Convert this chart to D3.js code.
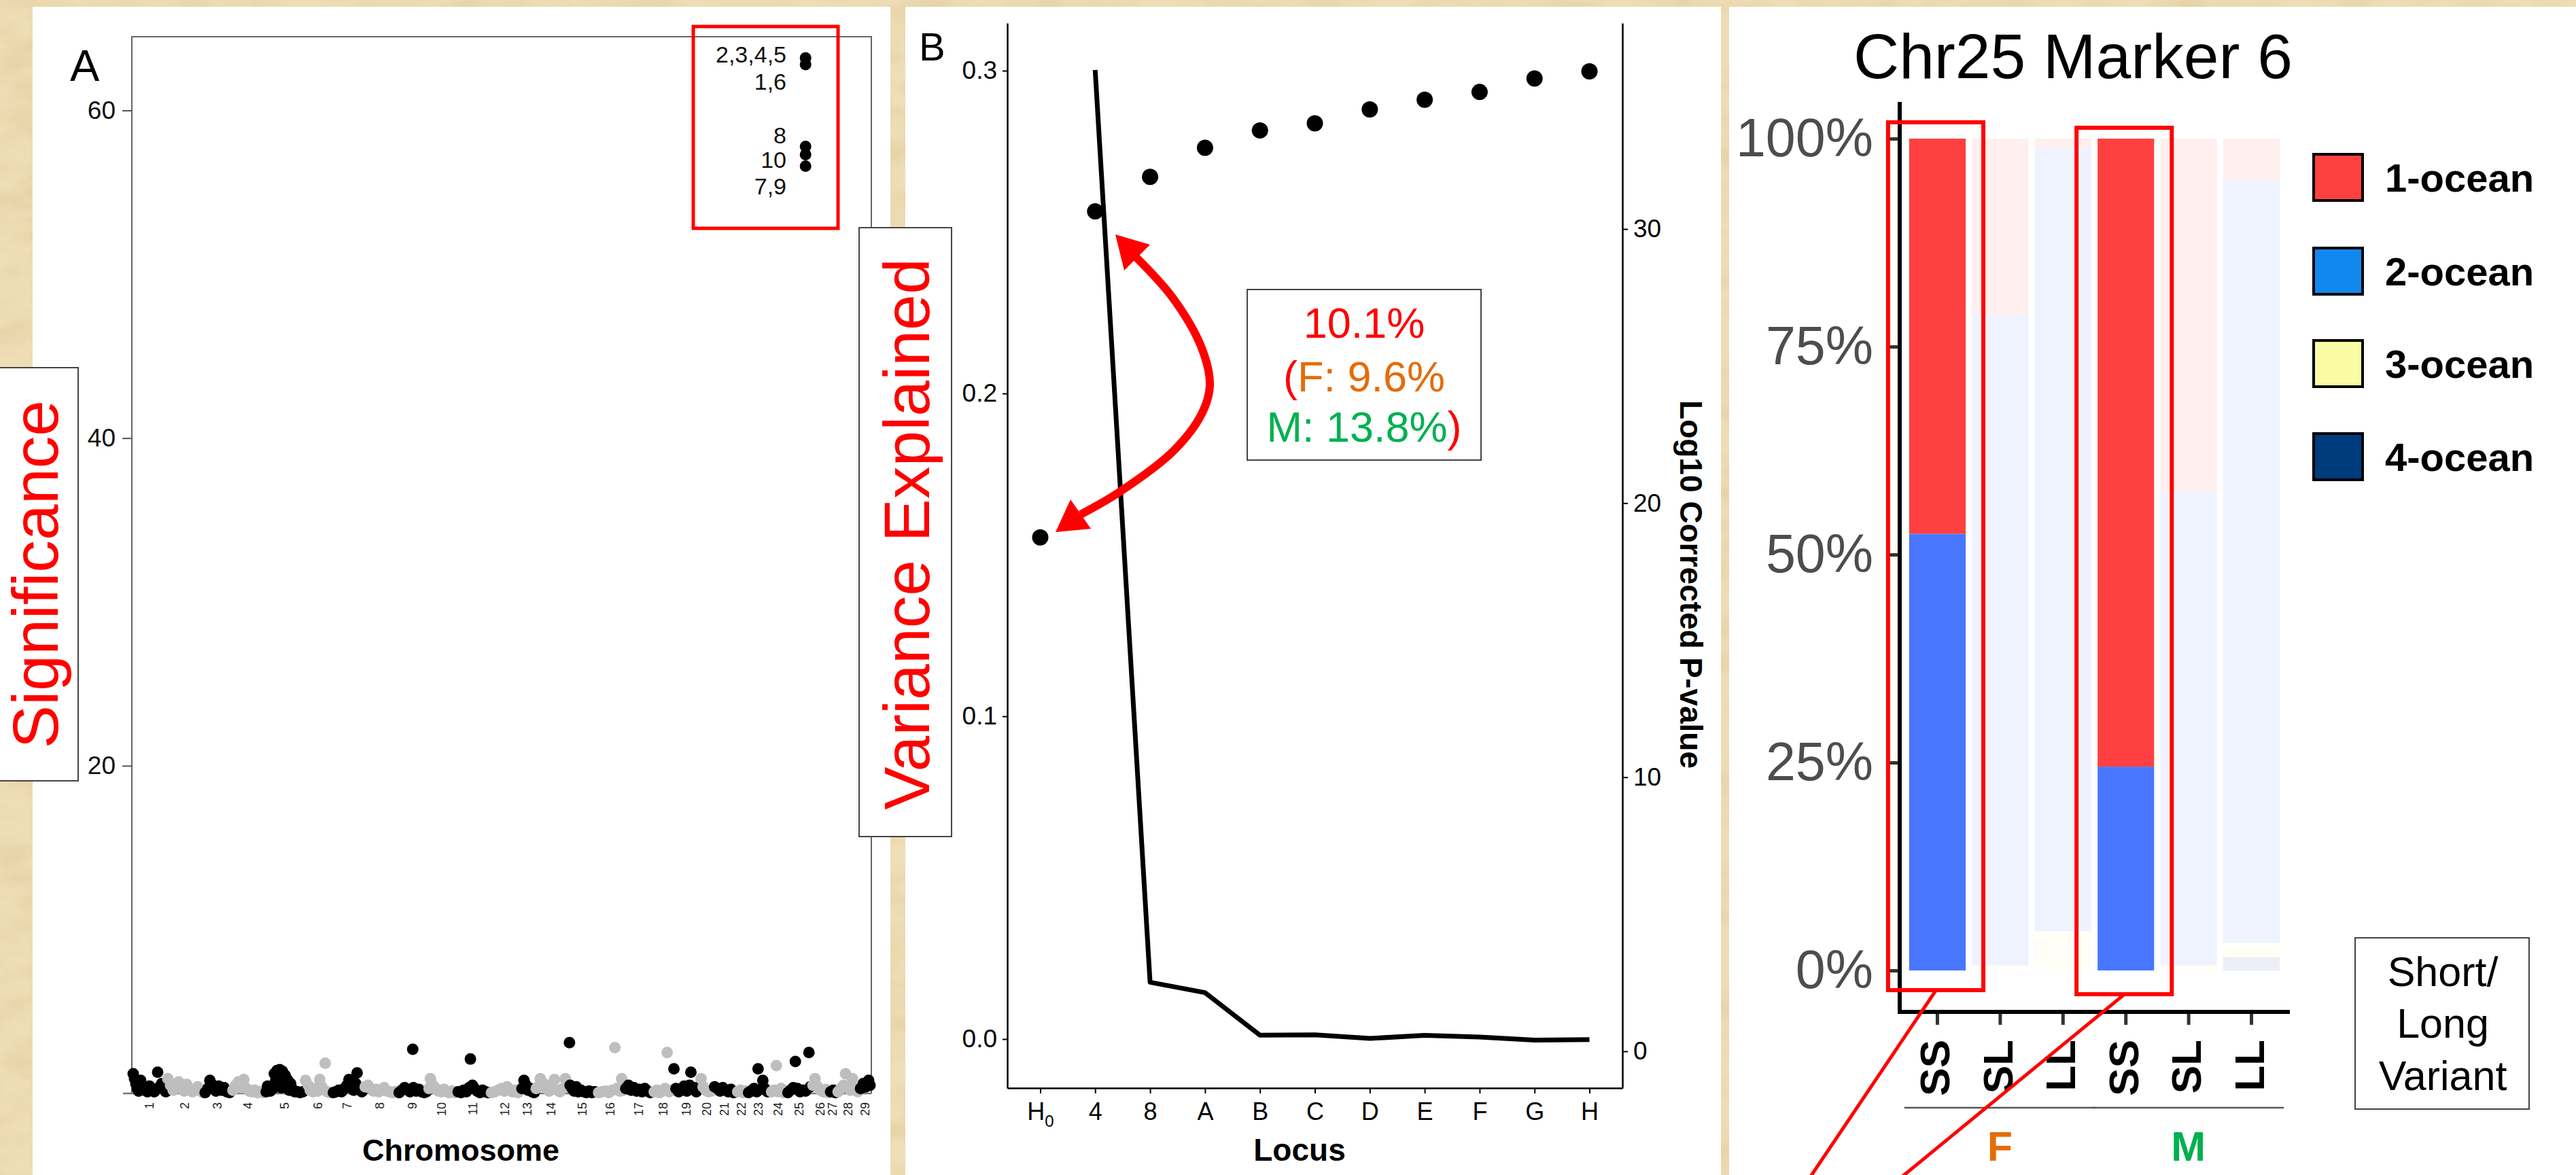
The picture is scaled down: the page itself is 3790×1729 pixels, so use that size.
<!DOCTYPE html>
<html><head><meta charset="utf-8">
<script src="https://cdn.jsdelivr.net/npm/d3@7"></script>
<style>
body{margin:0;background:#EBD8AE;overflow:hidden;}
svg{display:block;}
text{font-family:"Liberation Sans",Arial,Helvetica,sans-serif;}
</style>
</head><body>
<script>
// ================= DATA =================
// Panel A : Manhattan plot
const chromosomes = d3.range(1, 30).map(String);
const chrLengths = [50,55,40,50,58,41,46,50,45,42,49,46,21,49,42,41,42,30,40,19,33,17,33,25,37,25,12,33,17];
// [position within chromosome, -log10 p]
const chrSnps = [
 [[1,1.2],[3,0.9],[5,0.6],[7,0.3],[9,0.15],[12,0.8],[14,0.35],[18,0.2],[22,0.1],[25,0.45],[28,0.25],[32,0.1],[37,1.3],[40,0.4],[43,0.6],[46,0.3],[49,0.1]],
 [[2,0.9],[6,0.5],[10,0.2],[14,0.35],[18,0.7],[22,0.4],[26,0.15],[30,0.55],[34,0.3],[38,0.1],[42,0.25],[46,0.4],[50,0.15],[54,0.05]],
 [[2,0.05],[6,0.3],[9,0.8],[12,0.55],[15,0.3],[18,0.15],[22,0.45],[26,0.2],[30,0.35],[34,0.1],[38,0.05]],
 [[3,0.2],[7,0.5],[11,0.7],[15,0.35],[19,0.85],[23,0.3],[27,0.15],[31,0.1],[35,0.2],[39,0.05],[43,0.1],[47,0.05]],
 [[2,0.1],[4,0.45],[8,0.15],[12,0.3],[14,1.2],[18,1.4],[22,1.45],[26,1.35],[30,1.1],[34,0.8],[16,0.8],[20,0.5],[24,0.35],[28,0.6],[32,0.4],[36,0.2],[38,0.6],[40,0.3],[44,0.1],[48,0.1],[52,0.05],[56,0.1]],
 [[2,0.8],[6,0.5],[9,0.2],[13,0.1],[17,0.3],[20,0.15],[23,0.85],[26,0.4],[31,1.85],[34,0.1],[38,0.05]],
 [[2,0.05],[6,0.1],[10,0.2],[14,0.1],[18,0.3],[22,0.5],[25,0.85],[28,0.4],[32,0.2],[35,0.6],[37,1.25],[40,0.3],[44,0.1]],
 [[3,0.4],[7,0.5],[11,0.3],[15,0.15],[19,0.25],[23,0.1],[27,0.2],[31,0.35],[35,0.15],[39,0.1],[43,0.05],[47,0.1]],
 [[3,0.05],[7,0.2],[11,0.35],[15,0.25],[19,0.1],[23,2.7],[24,0.35],[28,0.15],[32,0.25],[36,0.1],[40,0.05],[43,0.1]],
 [[2,0.3],[4,0.9],[8,0.5],[12,0.3],[16,0.15],[20,0.1],[24,0.25],[28,0.1],[32,0.05],[36,0.15],[40,0.05]],
 [[3,0.1],[7,0.05],[11,0.2],[15,0.1],[19,0.35],[21,2.1],[24,0.5],[27,0.3],[31,0.15],[35,0.05],[39,0.2],[43,0.1],[47,0.05]],
 [[3,0.05],[8,0.1],[13,0.2],[18,0.3],[22,0.15],[26,0.4],[30,0.25],[34,0.1],[38,0.2],[42,0.05]],
 [[2,0.3],[5,0.8],[8,0.5],[11,0.2],[14,0.3],[17,0.1],[20,0.05]],
 [[2,0.3],[5,0.4],[8,0.9],[13,0.6],[17,0.3],[21,0.15],[25,0.5],[29,0.85],[33,0.2],[37,0.1],[41,0.3],[45,0.9]],
 [[2,3.1],[3,0.5],[6,0.3],[9,0.15],[12,0.4],[15,0.1],[19,0.2],[23,0.1],[27,0.05],[31,0.15],[35,0.05],[39,0.1]],
 [[3,0.05],[8,0.1],[13,0.15],[18,0.05],[23,0.2],[27,2.8],[30,0.3],[34,0.15],[37,0.9],[40,0.2]],
 [[2,0.3],[6,0.5],[10,0.2],[14,0.35],[18,0.15],[22,0.25],[26,0.1],[30,0.3],[34,0.15],[38,0.05]],
 [[2,0.1],[6,0.2],[10,0.05],[14,0.15],[18,0.3],[21,2.5],[24,0.1],[28,0.2]],
 [[1,1.5],[4,0.3],[8,0.1],[12,0.2],[16,0.45],[20,0.15],[24,0.5],[26,1.3],[30,0.35],[34,0.1],[38,0.4]],
 [[1,0.9],[4,0.4],[8,0.2],[12,0.1],[16,0.15]],
 [[2,0.4],[6,0.3],[10,0.15],[14,0.35],[18,0.2],[22,0.1],[26,0.25],[30,0.05]],
 [[3,0.1],[7,0.2],[11,0.05],[15,0.15]],
 [[2,0.05],[6,0.15],[10,0.3],[14,0.1],[16,1.5],[20,0.25],[23,0.8],[26,0.3],[30,0.1]],
 [[3,0.1],[7,0.2],[10,1.7],[13,0.1],[17,0.3],[21,0.05],[24,0.15]],
 [[2,0.05],[6,0.2],[10,0.35],[13,1.95],[16,0.3],[20,0.1],[24,0.2],[28,0.15],[33,2.5],[35,0.4]],
 [[2,0.5],[5,0.9],[9,0.4],[13,0.2],[17,0.1],[21,0.25],[24,0.05]],
 [[3,0.1],[7,0.2],[10,0.05]],
 [[2,0.1],[6,0.3],[10,0.5],[13,1.2],[17,0.4],[20,0.2],[23,0.9],[27,0.3],[31,0.1]],
 [[2,0.3],[6,0.6],[10,0.4],[14,0.8],[16,0.5]]
];
const topHitChr = "25";
const topHitPos = 28;
const topHitValues = [63.2, 62.8, 57.8, 57.3, 56.6];
const topHitLabels = ["2,3,4,5", "1,6", "8", "10", "7,9"];
const sigTicks = [20, 40, 60];

// Panel B : variance explained / p-value by locus
const loci = ["H0","4","8","A","B","C","D","E","F","G","H"];
const varianceExplained = [0.1554,0.2564,0.2671,0.2761,0.2815,0.2837,0.2880,0.2910,0.2934,0.2976,0.2998];
const log10P = [null,35.8,2.52,2.14,0.59,0.60,0.47,0.58,0.52,0.41,0.43];
const varTicks = [0, 0.1, 0.2, 0.3];
const pTicks = [0, 10, 20, 30];

// Panel C : Chr25 Marker 6 composition
const barCats = ["F-SS","F-SL","F-LL","M-SS","M-SL","M-LL"];
const barVariant = ["SS","SL","LL","SS","SL","LL"];
const sexGroups = ["F","M"];
const oceans = ["1-ocean","2-ocean","3-ocean","4-ocean"];
const ocean1 = [47.5,21.2,1.1,75.5,42.4,5.0];
const ocean2 = [52.5,78.2,94.2,24.5,57.0,91.7];
const ocean3 = [0,0.6,4.7,0,0.6,1.7];
const ocean4 = [0,0,0,0,0,1.6];
const highlighted = [true,false,false,true,false,false];
const pctTicks = [0,25,50,75,100];

// ================= STYLE / LAYOUT =================
const W = 3790, H = 1729;
const FONT = '"Liberation Sans",Arial,Helvetica,sans-serif';
const barColors = {"1-ocean":"#FF4040","2-ocean":"#4876FF","3-ocean":"#FFFFA0","4-ocean":"#27408B"};
const legendColors = {"1-ocean":"#FF4040","2-ocean":"#1188EE","3-ocean":"#FAFCA3","4-ocean":"#003C7D"};

const svg = d3.select("body").append("svg").attr("width", W).attr("height", H);
const defs = svg.append("defs");
const flt = defs.append("filter").attr("id","tex").attr("x",0).attr("y",0).attr("width","100%").attr("height","100%");
flt.append("feTurbulence").attr("type","fractalNoise").attr("baseFrequency","0.012 0.025").attr("numOctaves",4).attr("seed",7);
flt.append("feColorMatrix").attr("type","matrix")
  .attr("values","0 0 0 0 0.78  0 0 0 0 0.62  0 0 0 0 0.36  1.6 0 0 0 -0.62");
defs.append("clipPath").attr("id","clipAll").append("rect").attr("x",0).attr("y",0).attr("width",W).attr("height",H);

// background parchment
svg.append("rect").attr("width",W).attr("height",H).attr("fill","#EEDDB6");
svg.append("rect").attr("width",W).attr("height",H).attr("filter","url(#tex)");

// white panels
[[48,10,1262],[1332,10,1200],[2544,10,1246]].forEach(p=>{
  svg.append("rect").attr("x",p[0]).attr("y",p[1]).attr("width",p[2]).attr("height",H-p[1]).attr("fill","#fff");
});

// ================= PANEL A =================
const gA = svg.append("g");
const chrStart = [];
let acc = 0;
chrLengths.forEach(l => { chrStart.push(acc); acc += l; });
const totalLen = acc;
const xA = d3.scaleLinear().domain([0, totalLen]).range([195, 1281]);
const yA = d3.scaleLinear().domain([0, 64.5]).range([1609, 54]);

// frame
gA.append("path").attr("d", `M${xA.range()[0]-1},${yA(0)}V${yA.range()[1]}H${xA.range()[1]+1}V${yA(0)}`)
  .attr("fill","none").attr("stroke","#666").attr("stroke-width",2);
gA.append("line").attr("x1",181).attr("x2",xA.range()[1]+1).attr("y1",yA(0)).attr("y2",yA(0))
  .attr("stroke","#777").attr("stroke-width",2.5);

const axA = gA.append("g").attr("transform",`translate(${xA.range()[0]-1},0)`)
  .call(d3.axisLeft(yA).tickValues(sigTicks).tickSize(14).tickPadding(10).tickSizeOuter(0));
axA.select(".domain").remove();
axA.selectAll(".tick line").attr("stroke","#555").attr("stroke-width",2);
axA.selectAll(".tick text").attr("font-size",37).attr("font-family",FONT).attr("fill","#111");

// points
const pts = [];
chrSnps.forEach((arr, i) => arr.forEach(d => pts.push({chr: i+1, pos: chrStart[i] + d[0], v: d[1]})));
gA.append("g").selectAll("circle").data(pts).join("circle")
  .attr("cx", d => xA(d.pos)).attr("cy", d => yA(d.v)).attr("r", 8.5)
  .attr("fill", d => d.chr % 2 ? "#000" : "#BEBEBE");
const topIdx = chromosomes.indexOf(topHitChr);
gA.append("g").selectAll("circle").data(topHitValues).join("circle")
  .attr("cx", xA(chrStart[topIdx] + topHitPos)).attr("cy", d => yA(d)).attr("r", 8.5).attr("fill","#000");
const topLabelY = [92, 132, 211, 247, 286];
gA.append("g").selectAll("text").data(topHitLabels).join("text")
  .attr("x", 1157).attr("y", (d,i) => topLabelY[i]).attr("text-anchor","end")
  .attr("font-size",34).attr("fill","#111").text(d => d);

// chromosome labels
gA.append("g").selectAll("text").data(chromosomes).join("text")
  .attr("transform", (d,i) => `translate(${xA(chrStart[i] + chrLengths[i]/2)+6},1622) rotate(-90)`)
  .attr("text-anchor","end").attr("font-size",18).attr("fill","#222").text(d => d);
gA.append("text").attr("x",678).attr("y",1708).attr("text-anchor","middle")
  .attr("font-size",45).attr("font-weight","bold").text("Chromosome");
gA.append("text").attr("x",103).attr("y",119).attr("font-size",65).attr("fill","#000").text("A");
// highlight box
gA.append("rect").attr("x",1020).attr("y",39).attr("width",213).attr("height",297)
  .attr("fill","none").attr("stroke","#FF0000").attr("stroke-width",5);

// ================= PANEL B =================
const gB = svg.append("g");
const xB = d3.scalePoint().domain(loci).range([1482, 2387]).padding(0.6);
const yL = d3.scaleLinear().domain([-0.01516, 0.31474]).range([1601, 34]);
const yR = d3.scaleLinear().domain([-1.339, 37.512]).range([1601, 34]);

const axL = gB.append("g").attr("transform","translate(1482,0)")
  .call(d3.axisLeft(yL).tickValues(varTicks).tickFormat(d3.format(".1f")).tickSize(7).tickPadding(8).tickSizeOuter(0));
const axR = gB.append("g").attr("transform","translate(2387,0)")
  .call(d3.axisRight(yR).tickValues(pTicks).tickSize(8).tickPadding(8).tickSizeOuter(0));
const axBt = gB.append("g").attr("transform","translate(0,1601)")
  .call(d3.axisBottom(xB).tickSize(8).tickPadding(12).tickSizeOuter(0));
[axL, axR, axBt].forEach(a => {
  a.select(".domain").attr("stroke","#000").attr("stroke-width",2.5);
  a.selectAll(".tick line").attr("stroke","#000").attr("stroke-width",2);
  a.selectAll(".tick text").attr("font-size",37).attr("font-family",FONT).attr("fill","#000");
});
axBt.selectAll(".tick text").attr("font-size",36).attr("dy","0.75em")
  .each(function(d){
    if (d === "H0") {
      const t = d3.select(this); t.text("H");
      t.append("tspan").attr("font-size",24).attr("dy",10).text("0");
    }
  });

const lineData = loci.map((l,i) => ({l, v: log10P[i]})).filter(d => d.v !== null);
gB.append("path").datum(lineData)
  .attr("d", d3.line().x(d => xB(d.l)).y(d => yR(d.v)))
  .attr("fill","none").attr("stroke","#000").attr("stroke-width",7).attr("stroke-linejoin","round");
gB.append("g").selectAll("circle").data(loci).join("circle")
  .attr("cx", d => xB(d)).attr("cy", (d,i) => yL(varianceExplained[i])).attr("r", 12).attr("fill","#000");

gB.append("text").attr("x",1912).attr("y",1708).attr("text-anchor","middle")
  .attr("font-size",46).attr("font-weight","bold").text("Locus");
gB.append("text").attr("transform","translate(2472,860) rotate(90)").attr("text-anchor","middle")
  .attr("font-size",46).attr("font-weight","bold").text("Log10 Corrected P-value");
gB.append("text").attr("x",1352).attr("y",89).attr("font-size",58).text("B");

// curved double arrow
const arrowPts = [[1672,379],[1726,439],[1768,512],[1780,567],[1768,609],[1726,664],[1647,724],[1590,757]];
gB.append("path").attr("d", d3.line().curve(d3.curveCatmullRom)(arrowPts))
  .attr("fill","none").attr("stroke","#FF0000").attr("stroke-width",12).attr("stroke-linecap","butt");
gB.append("polygon").attr("points","1641,345 1654,398 1692,360").attr("fill","#FF0000");
gB.append("polygon").attr("points","1553,783 1575,735 1605,778").attr("fill","#FF0000");

// value box
gB.append("rect").attr("x",1835).attr("y",426).attr("width",344).attr("height",251)
  .attr("fill","#fff").attr("stroke","#444").attr("stroke-width",2);
gB.append("text").attr("x",2007).attr("y",497).attr("text-anchor","middle").attr("font-size",63)
  .attr("fill","#FF0000").text("10.1%");
const t2 = gB.append("text").attr("x",2007).attr("y",576).attr("text-anchor","middle").attr("font-size",63);
t2.append("tspan").attr("fill","#FF0000").text("(");
t2.append("tspan").attr("fill","#E46C0A").text("F: 9.6%");
const t3 = gB.append("text").attr("x",2007).attr("y",650).attr("text-anchor","middle").attr("font-size",63);
t3.append("tspan").attr("fill","#00B050").text("M: 13.8%");
t3.append("tspan").attr("fill","#FF0000").text(")");

// ================= LABEL BOXES (overlaying) =================
svg.append("rect").attr("x",-5).attr("y",541).attr("width",120).attr("height",608)
  .attr("fill","#fff").attr("stroke","#444").attr("stroke-width",2);
svg.append("text").attr("transform","translate(85,845) rotate(-90)").attr("text-anchor","middle")
  .attr("font-size",95).attr("fill","#FF0000").text("Significance");
svg.append("rect").attr("x",1264).attr("y",335).attr("width",136).attr("height",896)
  .attr("fill","#fff").attr("stroke","#444").attr("stroke-width",2);
svg.append("text").attr("transform","translate(1367,786) rotate(-90)").attr("text-anchor","middle")
  .attr("font-size",95).attr("fill","#FF0000").text("Variance Explained");

// ================= PANEL C =================
const gC = svg.append("g");
const xC = d3.scaleBand().domain(barCats).range([2795, 3368]).paddingInner(0.1).paddingOuter(0.15);
const yC = d3.scaleLinear().domain([0, 100]).range([1428, 204]);

const table = barCats.map((c,i) => ({cat:c, i, "1-ocean":ocean1[i], "2-ocean":ocean2[i], "3-ocean":ocean3[i], "4-ocean":ocean4[i]}));
const stacked = d3.stack().keys(["4-ocean","3-ocean","2-ocean","1-ocean"])(table);
gC.append("g").selectAll("g").data(stacked).join("g")
  .attr("fill", s => barColors[s.key])
  .selectAll("rect").data(s => s).join("rect")
  .attr("x", d => xC(d.data.cat)).attr("width", xC.bandwidth())
  .attr("y", d => yC(d[1])).attr("height", d => Math.max(0, yC(d[0]) - yC(d[1])))
  .attr("fill-opacity", d => highlighted[d.data.i] ? 1 : 0.085);

// axes
const axCy = gC.append("g").attr("transform","translate(2795,0)")
  .call(d3.axisLeft(yC).tickValues(pctTicks).tickFormat(d => d + "%").tickSize(15).tickPadding(24).tickSizeOuter(0));
axCy.select(".domain").remove();
axCy.selectAll(".tick line").attr("stroke","#333").attr("stroke-width",5);
axCy.selectAll(".tick text").attr("font-size",79).attr("font-family",FONT).attr("fill","#4D4D4D");
const axCx = gC.append("g").attr("transform","translate(0,1489)")
  .call(d3.axisBottom(xC).tickSize(19).tickFormat((d,i) => barVariant[i]).tickSizeOuter(0));
axCx.select(".domain").remove();
axCx.selectAll(".tick line").attr("stroke","#333").attr("stroke-width",5);
axCx.selectAll(".tick text").attr("font-size",62).attr("font-weight","bold").attr("font-family",FONT)
  .attr("fill","#000").attr("transform","translate(18,41) rotate(-90)").attr("text-anchor","end").attr("dy",0).attr("y",0);
gC.append("line").attr("x1",2795).attr("x2",2795).attr("y1",150).attr("y2",1492).attr("stroke","#000").attr("stroke-width",6);
gC.append("line").attr("x1",2792).attr("x2",3369).attr("y1",1489).attr("y2",1489).attr("stroke","#000").attr("stroke-width",6);

// sex group lines & labels
const sexColor = {"F":"#E46C0A","M":"#00B050"};
sexGroups.forEach((s) => {
  const cats = barCats.filter(c => c.startsWith(s));
  const x0 = xC(cats[0]) - 7, x1 = xC(cats[cats.length-1]) + xC.bandwidth() + 6;
  gC.append("line").attr("x1",x0).attr("x2",x1).attr("y1",1630).attr("y2",1630).attr("stroke","#555").attr("stroke-width",2.5);
  gC.append("text").attr("x",(x0+x1)/2).attr("y",1708).attr("text-anchor","middle")
    .attr("font-size",61).attr("font-weight","bold").attr("fill",sexColor[s]).text(s);
});

// title
gC.append("text").attr("x",3050).attr("y",115).attr("text-anchor","middle").attr("font-size",93).text("Chr25 Marker 6");

// legend
const legY = [261, 399, 535, 672];
const leg = gC.append("g").selectAll("g").data(oceans).join("g")
  .attr("transform",(d,i) => `translate(3404,${legY[i]})`);
leg.append("rect").attr("x",0).attr("y",-34).attr("width",72).attr("height",68)
  .attr("fill", d => legendColors[d]).attr("stroke","#000").attr("stroke-width",4);
leg.append("text").attr("x",105).attr("y",0).attr("dy","0.36em").attr("font-size",58).attr("font-weight","bold").text(d => d);

// Short/Long Variant box
gC.append("rect").attr("x",3465).attr("y",1380).attr("width",256).attr("height",252)
  .attr("fill","#fff").attr("stroke","#444").attr("stroke-width",2);
[["Short/",1451],["Long",1527],["Variant",1604]].forEach(t => {
  gC.append("text").attr("x",3594).attr("y",t[1]).attr("text-anchor","middle").attr("font-size",61).text(t[0]);
});

// highlight boxes + lines
const hl = gC.append("g").attr("clip-path","url(#clipAll)");
barCats.forEach((c,i) => {
  if (!highlighted[i]) return;
  const bx = xC(c) - 31, bw = xC.bandwidth() + 57;
  const by = i === 0 ? 180 : 188, bh = i === 0 ? 1277 : 1275;
  hl.append("rect").attr("x",bx).attr("y",by).attr("width",bw).attr("height",bh)
    .attr("fill","none").attr("stroke","#FF0000").attr("stroke-width",6);
  const cx = xC(c) + xC.bandwidth()/2 - 2;
  const endX = i === 0 ? 2664 : 2799;
  hl.append("line").attr("x1",cx).attr("y1",by+bh).attr("x2",endX).attr("y2",H+2)
    .attr("stroke","#FF0000").attr("stroke-width",5);
});
</script>
</body></html>
